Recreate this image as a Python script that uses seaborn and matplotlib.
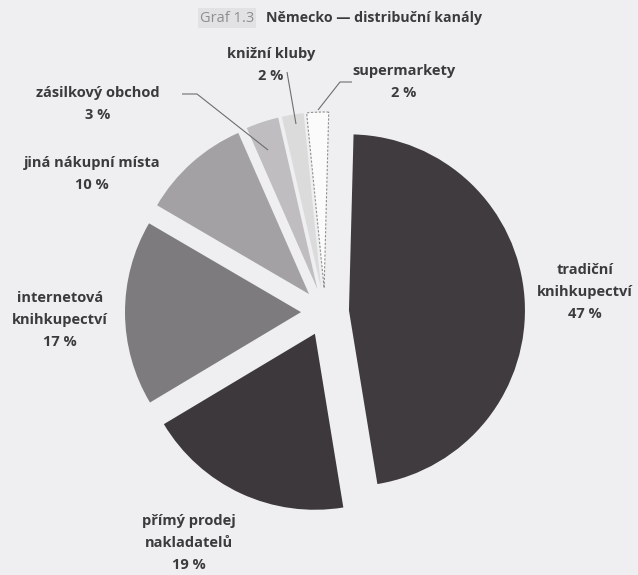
import matplotlib
import matplotlib.pyplot as plt
import seaborn as sns

matplotlib.use("Agg")

# --- DATA ---
channels = [
    "tradiční knihkupectví",
    "přímý prodej nakladatelů",
    "internetová knihkupectví",
    "jiná nákupní místa",
    "zásilkový obchod",
    "knižní kluby",
    "supermarkety",
]
shares = [47, 19, 17, 10, 3, 2, 2]
label_text = [
    "tradiční\nknihkupectví",
    "přímý prodej\nnakladatelů",
    "internetová\nknihkupectví",
    "jiná nákupní místa",
    "zásilkový obchod",
    "knižní kluby",
    "supermarkety",
]

# --- STYLE / LAYOUT (pixel coordinates, y measured from top) ---
W, H = 638, 575
BG = "#efeff1"
TEXT = "#3b3a3c"
colors = ["#3f3b3e", "#3c383b", "#7d7b7e", "#a3a1a3", "#bfbdbf", "#dcdbdc", "#fbfbfb"]
PIE_CENTER = (325, 312)
PIE_RADIUS = 176
EXPLODE = 24
label_pos = [(585, 292), (189, 543), (60, 320), (92, 174), (98, 104), (271, 65), (404, 82)]
leaders = {
    4: [(182, 94), (197, 94), (268, 150)],
    5: [(287, 72), (296, 124)],
    6: [(352, 82), (340, 82), (318, 110)],
}


def img(x, y):
    return x, H - y


sns.set_theme(style="white")
plt.rcParams["font.family"] = ["Open Sans", "DejaVu Sans"]

fig = plt.figure(figsize=(W / 100, H / 100), dpi=100, facecolor=BG)
ax = fig.add_axes([0, 0, 1, 1])
ax.set_facecolor(BG)

wedges, _ = ax.pie(
    shares,
    colors=colors,
    startangle=88.5,
    counterclock=False,
    explode=[EXPLODE] * len(shares),
    center=img(*PIE_CENTER),
    radius=PIE_RADIUS,
    wedgeprops=dict(linewidth=0),
)
# supermarkety drawn as a white wedge with a dashed outline
wedges[-1].set_edgecolor("#8f8f8f")
wedges[-1].set_linewidth(0.8)
wedges[-1].set_linestyle((0, (2, 1.5)))

ax.set_xlim(0, W)
ax.set_ylim(0, H)
ax.set_aspect("equal")
ax.axis("off")

for i, (txt, val) in enumerate(zip(label_text, shares)):
    x, y = img(*label_pos[i])
    ax.text(x, y, f"{txt}\n{val} %", ha="center", va="center", fontsize=10.5,
            fontweight="bold", color=TEXT, linespacing=1.75)

for i, pts in leaders.items():
    xs = [p[0] for p in pts]
    ys = [H - p[1] for p in pts]
    ax.plot(xs, ys, color="#6e6e6e", lw=0.8, solid_capstyle="butt")

# title
ax.text(*img(227, 18), "Graf 1.3", ha="center", va="center", fontsize=10.5,
        color="#8e8e8e", bbox=dict(boxstyle="square,pad=0.15", fc="#e2e2e4", ec="none"))
ax.text(*img(266, 18), "Německo — distribuční kanály", ha="left", va="center",
        fontsize=10.2, fontweight="bold", color=TEXT)

fig.savefig("out.png", dpi=100, facecolor=BG)
